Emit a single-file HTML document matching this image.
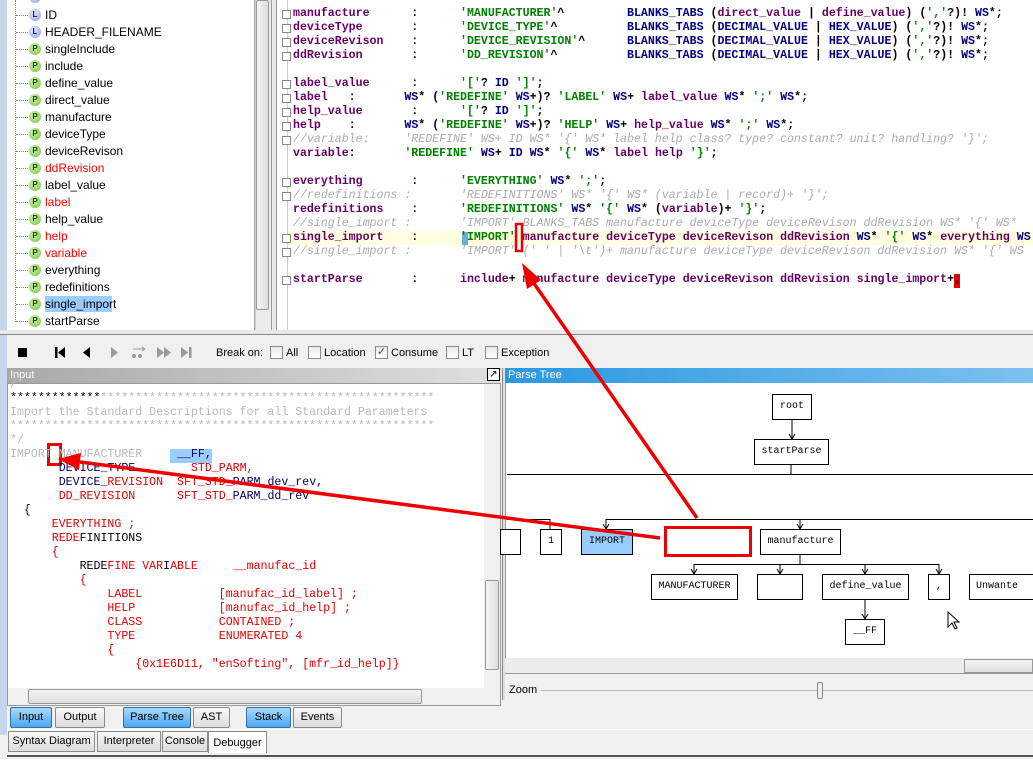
<!DOCTYPE html>
<html><head><meta charset="utf-8">
<style>
*{margin:0;padding:0;box-sizing:border-box}
body{width:1033px;height:763px;position:relative;overflow:hidden;background:#f0f0f0;font-family:"Liberation Sans",sans-serif}
.a{position:absolute}
.ti{position:absolute;left:45px;font-size:12px;line-height:14px;white-space:nowrap;color:#000}
.ic{position:absolute;left:29px;width:12px;height:12px;border-radius:50%;font-size:8px;font-weight:bold;text-align:center;line-height:12px}
.P{background:radial-gradient(circle at 40% 35%,#d8f5b0,#6cc040);color:#114400}
.L{background:radial-gradient(circle at 40% 35%,#e6ecff,#8ea0e0);color:#001a66}
.dt{position:absolute;left:16px;width:12px;border-top:1px dotted #888}
.code{position:absolute;font-family:"Liberation Mono",monospace;font-size:11.6px;line-height:14px;white-space:pre;font-weight:bold}
.n{color:#660066}.s{color:#008000}.t{color:#000080}.c{color:#aaa;font-weight:normal;font-style:italic}.k{color:#000}
.in{position:absolute;font-family:"Liberation Mono",monospace;font-size:11.6px;line-height:14px;white-space:pre}
.r{color:#e00000}.g{color:#b8b8b8}
.fold{position:absolute;left:282px;width:9px;height:9px;border:1px solid #888;background:#fff}
.tb{position:absolute;font-size:11px;line-height:19px;text-align:center;border:1px solid #8a8a8a;border-radius:2px;background:linear-gradient(#f8f8f8,#dcdcdc)}
.tb.b{background:linear-gradient(#a8d8ff,#4aa8f0);border-color:#3a6ea0}
.cb{position:absolute;top:346px;width:13px;height:13px;border:1px solid #8a8a8a;background:linear-gradient(#e8e8e8,#fff)}
.lb{position:absolute;top:346px;font-size:11px;line-height:14px}
.node{position:absolute;border:1px solid #000;background:#fff;font-family:"Liberation Mono",monospace;font-size:10px;text-align:center;line-height:24px;height:26px}
</style></head><body>
<!-- left strip -->
<div class="a" style="left:0;top:0;width:7px;height:735px;background:#c5d5ea"></div>
<!-- tree panel -->
<div class="a" style="left:7px;top:0;width:248px;height:330px;background:#fff;border-right:1px solid #aaa"></div>
<div class="a" style="left:255px;top:0;width:16px;height:330px;background:#ececec;border-left:1px solid #ccc"></div>
<div class="a" style="left:256px;top:0;width:13px;height:310px;background:linear-gradient(90deg,#f4f4f4,#dedede);border:1px solid #999;border-radius:2px"></div>
<div class="a" style="left:15px;top:0;height:322px;border-left:1px dotted #888"></div>
<div class="a" style="left:271px;top:0;width:6px;height:332px;background:#e8e8e8;border-left:1px solid #999;border-right:1px solid #999"></div>
<div class="a" style="left:277px;top:0;width:756px;height:330px;background:#fff"></div>
<div class="a" style="left:287px;top:0;height:330px;border-left:1px solid #ccc"></div>
<div class="a" style="left:0;top:330px;width:1033px;height:5px;background:#e8e8e8;border-bottom:1px solid #888"></div>

<!-- tree items -->
<div class="dt" style="top:-3px"></div><div class="ic L" style="top:-9px">L</div>
<div class="dt" style="top:15px"></div><div class="ic L" style="top:9px">L</div><div class="ti" style="top:8px">ID</div>
<div class="dt" style="top:32px"></div><div class="ic L" style="top:26px">L</div><div class="ti" style="top:25px">HEADER_FILENAME</div>
<div class="dt" style="top:49px"></div><div class="ic P" style="top:43px">P</div><div class="ti" style="top:42px">singleInclude</div>
<div class="dt" style="top:66px"></div><div class="ic P" style="top:60px">P</div><div class="ti" style="top:59px">include</div>
<div class="dt" style="top:83px"></div><div class="ic P" style="top:77px">P</div><div class="ti" style="top:76px">define_value</div>
<div class="dt" style="top:100px"></div><div class="ic P" style="top:94px">P</div><div class="ti" style="top:93px">direct_value</div>
<div class="dt" style="top:117px"></div><div class="ic P" style="top:111px">P</div><div class="ti" style="top:110px">manufacture</div>
<div class="dt" style="top:134px"></div><div class="ic P" style="top:128px">P</div><div class="ti" style="top:127px">deviceType</div>
<div class="dt" style="top:151px"></div><div class="ic P" style="top:145px">P</div><div class="ti" style="top:144px">deviceRevison</div>
<div class="dt" style="top:168px"></div><div class="ic P" style="top:162px">P</div><div class="ti" style="top:161px;color:#f00">ddRevision</div>
<div class="dt" style="top:185px"></div><div class="ic P" style="top:179px">P</div><div class="ti" style="top:178px">label_value</div>
<div class="dt" style="top:202px"></div><div class="ic P" style="top:196px">P</div><div class="ti" style="top:195px;color:#f00">label</div>
<div class="dt" style="top:219px"></div><div class="ic P" style="top:213px">P</div><div class="ti" style="top:212px">help_value</div>
<div class="dt" style="top:236px"></div><div class="ic P" style="top:230px">P</div><div class="ti" style="top:229px;color:#f00">help</div>
<div class="dt" style="top:253px"></div><div class="ic P" style="top:247px">P</div><div class="ti" style="top:246px;color:#f00">variable</div>
<div class="dt" style="top:270px"></div><div class="ic P" style="top:264px">P</div><div class="ti" style="top:263px">everything</div>
<div class="dt" style="top:287px"></div><div class="ic P" style="top:281px">P</div><div class="ti" style="top:280px">redefinitions</div>
<div class="a" style="left:45px;top:296px;width:67px;height:16px;background:#99ccff"></div>
<div class="dt" style="top:304px"></div><div class="ic P" style="top:298px">P</div><div class="ti" style="top:297px">single_import</div>
<div class="dt" style="top:321px"></div><div class="ic P" style="top:315px">P</div><div class="ti" style="top:314px">startParse</div>

<!-- code -->
<div class="a" style="left:288px;top:231px;width:745px;height:14px;background:#ffffe0"></div>
<div class="a" style="left:462px;top:232px;width:6px;height:13px;background:#6aaed0"></div>
<div class="a" style="left:954px;top:274px;width:6px;height:14px;background:#e00"></div>
<div class="fold" style="top:10px"></div><div class="fold" style="top:24px"></div><div class="fold" style="top:38px"></div><div class="fold" style="top:52px"></div>
<div class="fold" style="top:80px"></div><div class="fold" style="top:94px"></div><div class="fold" style="top:108px"></div><div class="fold" style="top:122px"></div><div class="fold" style="top:136px"></div>
<div class="fold" style="top:178px"></div><div class="fold" style="top:192px"></div><div class="fold" style="top:234px"></div><div class="fold" style="top:248px"></div><div class="fold" style="top:276px"></div>
<div class="code" style="left:293px;top:7px"><span class="n">manufacture</span>      <span class="k">:</span>      <span class="s">'MANUFACTURER'</span><span class="k">^</span>         <span class="t">BLANKS_TABS</span> <span class="k">(</span><span class="n">direct_value</span> <span class="k">|</span> <span class="n">define_value</span><span class="k">)</span> <span class="k">(</span><span class="s">','</span><span class="k">?)!</span> <span class="t">WS</span><span class="k">*;</span>
<span class="n">deviceType</span>       <span class="k">:</span>      <span class="s">'DEVICE_TYPE'</span><span class="k">^</span>          <span class="t">BLANKS_TABS</span> <span class="k">(</span><span class="t">DECIMAL_VALUE</span> <span class="k">|</span> <span class="t">HEX_VALUE</span><span class="k">)</span> <span class="k">(</span><span class="s">','</span><span class="k">?)!</span> <span class="t">WS</span><span class="k">*;</span>
<span class="n">deviceRevison</span>    <span class="k">:</span>      <span class="s">'DEVICE_REVISION'</span><span class="k">^</span>      <span class="t">BLANKS_TABS</span> <span class="k">(</span><span class="t">DECIMAL_VALUE</span> <span class="k">|</span> <span class="t">HEX_VALUE</span><span class="k">)</span> <span class="k">(</span><span class="s">','</span><span class="k">?)!</span> <span class="t">WS</span><span class="k">*;</span>
<span class="n">ddRevision</span>       <span class="k">:</span>      <span class="s">'DD_REVISION'</span><span class="k">^</span>          <span class="t">BLANKS_TABS</span> <span class="k">(</span><span class="t">DECIMAL_VALUE</span> <span class="k">|</span> <span class="t">HEX_VALUE</span><span class="k">)</span> <span class="k">(</span><span class="s">','</span><span class="k">?)!</span> <span class="t">WS</span><span class="k">*;</span>

<span class="n">label_value</span>      <span class="k">:</span>      <span class="s">'['</span><span class="k">?</span> <span class="t">ID</span> <span class="s">']'</span><span class="k">;</span>
<span class="n">label</span>   <span class="k">:</span>       <span class="t">WS</span><span class="k">*</span> <span class="k">(</span><span class="s">'REDEFINE'</span> <span class="t">WS</span><span class="k">+)?</span> <span class="s">'LABEL'</span> <span class="t">WS</span><span class="k">+</span> <span class="n">label_value</span> <span class="t">WS</span><span class="k">*</span> <span class="s">';'</span> <span class="t">WS</span><span class="k">*;</span>
<span class="n">help_value</span>       <span class="k">:</span>      <span class="s">'['</span><span class="k">?</span> <span class="t">ID</span> <span class="s">']'</span><span class="k">;</span>
<span class="n">help</span>    <span class="k">:</span>       <span class="t">WS</span><span class="k">*</span> <span class="k">(</span><span class="s">'REDEFINE'</span> <span class="t">WS</span><span class="k">+)?</span> <span class="s">'HELP'</span> <span class="t">WS</span><span class="k">+</span> <span class="n">help_value</span> <span class="t">WS</span><span class="k">*</span> <span class="s">';'</span> <span class="t">WS</span><span class="k">*;</span>
<span class="c">//variable:     'REDEFINE' WS+ ID WS* '{' WS* label help class? type? constant? unit? handling? '}';</span>
<span class="n">variable</span><span class="k">:</span>       <span class="s">'REDEFINE'</span> <span class="t">WS</span><span class="k">+</span> <span class="t">ID</span> <span class="t">WS</span><span class="k">*</span> <span class="s">'{'</span> <span class="t">WS</span><span class="k">*</span> <span class="n">label</span> <span class="n">help</span> <span class="s">'}'</span><span class="k">;</span>

<span class="n">everything</span>       <span class="k">:</span>      <span class="s">'EVERYTHING'</span> <span class="t">WS</span><span class="k">*</span> <span class="s">';'</span><span class="k">;</span>
<span class="c">//redefinitions :       'REDEFINITIONS' WS* '{' WS* (variable | record)+ '}';</span>
<span class="n">redefinitions</span>    <span class="k">:</span>      <span class="s">'REDEFINITIONS'</span> <span class="t">WS</span><span class="k">*</span> <span class="s">'{'</span> <span class="t">WS</span><span class="k">*</span> <span class="k">(</span><span class="n">variable</span><span class="k">)+</span> <span class="s">'}'</span><span class="k">;</span>
<span class="c">//single_import :       'IMPORT' BLANKS_TABS manufacture deviceType deviceRevison ddRevision WS* '{' WS*</span>
<span class="n">single_import</span>    <span class="k">:</span>      <span class="s">'IMPORT'</span> <span class="n">manufacture</span> <span class="n">deviceType</span> <span class="n">deviceRevison</span> <span class="n">ddRevision</span> <span class="t">WS</span><span class="k">*</span> <span class="s">'{'</span> <span class="t">WS</span><span class="k">*</span> <span class="n">everything</span> <span class="t">WS</span>
<span class="c">//single_import :       'IMPORT' (' ' | '\t')+ manufacture deviceType deviceRevison ddRevision WS* '{' WS</span>

<span class="n">startParse</span>       <span class="k">:</span>      <span class="n">include</span><span class="k">+</span> <span class="n">manufacture</span> <span class="n">deviceType</span> <span class="n">deviceRevison</span> <span class="n">ddRevision</span> <span class="n">single_import</span><span class="k">+;</span></div>

<!-- toolbar -->
<div class="a" style="left:7px;top:336px;width:1026px;height:32px;background:#f0f0f0"></div>
<svg class="a" style="left:0;top:340px" width="210" height="26">
<rect x="18" y="8" width="9" height="9" fill="#000"/>
<rect x="55" y="7" width="2.5" height="11" fill="#000"/><path d="M65,7 L58,12.5 L65,18 Z" fill="#000"/>
<path d="M90,7 L83,12.5 L90,18 Z" fill="#000"/>
<path d="M111,7 L118,12.5 L111,18 Z" fill="#999"/>
<circle cx="134" cy="16" r="2" fill="#999"/><circle cx="140" cy="16" r="2" fill="#999"/><path d="M133,9 L145,9 M142,7 L145,9 L142,11" stroke="#999" fill="none"/>
<path d="M157,7 L164,12.5 L157,18 Z M164,7 L171,12.5 L164,18 Z" fill="#999"/>
<path d="M181,7 L188,12.5 L181,18 Z" fill="#999"/><rect x="189" y="7" width="2.5" height="11" fill="#999"/>
</svg>
<div class="lb" style="left:216px">Break on:</div>
<div class="cb" style="left:270px"></div><div class="lb" style="left:286px">All</div>
<div class="cb" style="left:308px"></div><div class="lb" style="left:324px">Location</div>
<div class="cb" style="left:375px;font-size:11px;line-height:11px;color:#2050b0;text-align:center">✓</div><div class="lb" style="left:391px">Consume</div>
<div class="cb" style="left:446px"></div><div class="lb" style="left:462px">LT</div>
<div class="cb" style="left:485px"></div><div class="lb" style="left:501px">Exception</div>

<!-- input panel -->
<div class="a" style="left:7px;top:368px;width:494px;height:15px;background:linear-gradient(90deg,#a8a8a8,#e0e0e0);color:#fff;font-size:11px;line-height:15px;padding-left:3px">Input</div>
<div class="a" style="left:487px;top:368px;width:13px;height:13px;border:1px solid #000;background:#fff;font-size:10px;line-height:11px;text-align:center">↗</div>
<div class="a" style="left:7px;top:383px;width:494px;height:323px;background:#fff;border:1px solid #999"></div>
<div class="a" style="left:484px;top:384px;width:16px;height:304px;background:#f0f0f0"></div>
<div class="a" style="left:485px;top:580px;width:14px;height:90px;border:1px solid #999;border-radius:2px;background:linear-gradient(90deg,#f4f4f4,#ddd)"></div>
<div class="a" style="left:8px;top:688px;width:492px;height:17px;background:#f0f0f0"></div>
<div class="a" style="left:28px;top:689px;width:394px;height:15px;border:1px solid #999;border-radius:2px;background:linear-gradient(#f4f4f4,#ddd)"></div>
<div class="a" style="left:47px;top:443px;width:15px;height:23px;border:3px solid #e00"></div>
<div class="a" style="left:170px;top:449px;width:42px;height:14px;background:#99ccff"></div>
<div class="in" style="left:10px;top:378px"><span class="g">/*</span>
<span style="color:#000">*************</span><span class="g">************************************************</span>
<span class="g">Import the Standard Descriptions for all Standard Parameters</span>
<span class="g">*************************************************************</span>
<span class="g">*/</span>
<span class="g">IMPORT MANUFACTURER</span>     <span style="color:#006">__FF,</span>
       <span style="color:#006">DEVICE_TYPE</span>        <span class="r">STD_PARM,</span>
       <span style="color:#006">DEVICE_</span><span class="r">REVISION</span>  <span class="r">SFT_STD_</span><span style="color:#006">PARM_dev_rev,</span>
       <span class="r">DD_REVISION</span>      <span class="r">SFT_STD_</span><span style="color:#006">PARM_dd_rev</span>
  <span style="color:#006">{</span>
      <span class="r">EVERYTHING ;</span>
      <span class="r">REDE</span><span style="color:#000">FINITIONS</span>
      <span class="r">{</span>
          <span style="color:#000">REDE</span><span class="r">FINE VAR</span><span style="color:#000">I</span><span class="r">ABLE</span>     <span class="r">__manufac_id</span>
          <span class="r">{</span>
              <span class="r">LABEL</span>           <span class="r">[manufac_id_label] ;</span>
              <span class="r">HELP</span>            <span class="r">[manufac_id_help] ;</span>
              <span class="r">CLASS</span>           <span class="r">CONTAINED ;</span>
              <span class="r">TYPE</span>            <span class="r">ENUMERATED 4</span>
              <span class="r">{</span>
                  <span class="r">{0x1E6D11, "enSofting", [mfr_id_help]}</span></div>

<!-- parse tree panel -->
<div class="a" style="left:502px;top:368px;width:3px;height:332px;background:#e0e0e0;border-left:1px solid #888"></div>
<div class="a" style="left:505px;top:368px;width:528px;height:15px;background:linear-gradient(90deg,#2a98e0,#7cc0f0);color:#fff;font-size:11px;line-height:15px;padding-left:3px">Parse Tree</div>
<div class="a" style="left:505px;top:383px;width:528px;height:275px;background:#fff;border-left:1px solid #999"></div>
<div class="a" style="left:505px;top:658px;width:528px;height:16px;background:#ececec;border-bottom:1px solid #999"></div>
<div class="a" style="left:964px;top:659px;width:69px;height:14px;border:1px solid #999;background:linear-gradient(#f4f4f4,#ddd)"></div>
<div class="a" style="left:509px;top:684px;font-size:11px">Zoom</div>
<div class="a" style="left:541px;top:690px;width:492px;border-top:1px solid #bbb"></div>
<div class="a" style="left:817px;top:682px;width:6px;height:17px;border:1px solid #888;border-radius:2px;background:#eee"></div>

<div class="node" style="left:772px;top:394px;width:40px">root</div>
<div class="node" style="left:754px;top:439px;width:75px">startParse</div>
<div class="node" style="left:500px;top:529px;width:21px"></div>
<div class="node" style="left:540px;top:529px;width:22px">1</div>
<div class="node" style="left:581px;top:529px;width:52px;background:#99ccff">IMPORT</div>
<div class="node" style="left:760px;top:529px;width:81px">manufacture</div>
<div class="node" style="left:651px;top:574px;width:87px">MANUFACTURER</div>
<div class="node" style="left:757px;top:574px;width:46px"></div>
<div class="node" style="left:822px;top:574px;width:87px">define_value</div>
<div class="node" style="left:928px;top:574px;width:22px">,</div>
<div class="node" style="left:969px;top:574px;width:70px;text-align:left;padding-left:6px">Unwante</div>
<div class="node" style="left:845px;top:619px;width:40px">__FF</div>
<div class="a" style="left:664px;top:526px;width:88px;height:31px;border:3px solid #e00"></div>

<svg class="a" style="left:0;top:0" width="1033" height="763">
<g stroke="#000" stroke-width="1" fill="none">
<line x1="792" y1="420" x2="792" y2="439"/><path d="M789,434 L792,439 L795,434"/>
<line x1="791" y1="465" x2="791" y2="474"/>
<line x1="507" y1="474.5" x2="1033" y2="474.5"/>
<line x1="507" y1="519.5" x2="550" y2="519.5"/><line x1="550" y1="519" x2="550" y2="529"/>
<line x1="606" y1="519.5" x2="1033" y2="519.5"/>
<line x1="606" y1="519" x2="606" y2="529"/><path d="M603,524 L606,529 L609,524"/>
<line x1="800" y1="519" x2="800" y2="529"/><path d="M797,524 L800,529 L803,524"/>
<line x1="800" y1="555" x2="800" y2="564"/>
<line x1="694" y1="564.5" x2="939" y2="564.5"/>
<line x1="694" y1="564" x2="694" y2="574"/><path d="M691,569 L694,574 L697,569"/>
<line x1="780" y1="564" x2="780" y2="574"/><path d="M777,569 L780,574 L783,569"/>
<line x1="865" y1="564" x2="865" y2="574"/><path d="M862,569 L865,574 L868,569"/>
<line x1="939" y1="564" x2="939" y2="574"/><path d="M936,569 L939,574 L942,569"/>
<line x1="865" y1="600" x2="865" y2="619"/><path d="M862,614 L865,619 L868,614"/>
</g>
<path d="M948,612 L948,627 L952,623 L955,629 L957,628 L954,622 L959,622 Z" fill="#fff" stroke="#000" stroke-width="1"/>
<rect x="516" y="224" width="6" height="27" fill="none" stroke="#e00" stroke-width="2.5"/>
<g stroke="#e00" stroke-width="3.5" fill="#e00">
<line x1="697" y1="518" x2="533" y2="282"/>
<path d="M522,263 L541,280 L527,289 Z" stroke="none"/>
<line x1="660" y1="538" x2="80" y2="462"/>
<path d="M58,459 L81,453 L79,470 Z" stroke="none"/>
</g>
</svg>

<!-- bottom tabs -->
<div class="tb b" style="left:10px;top:707px;width:42px">Input</div>
<div class="tb" style="left:55px;top:707px;width:50px">Output</div>
<div class="tb b" style="left:123px;top:707px;width:68px">Parse Tree</div>
<div class="tb" style="left:193px;top:707px;width:37px">AST</div>
<div class="tb b" style="left:246px;top:707px;width:45px">Stack</div>
<div class="tb" style="left:293px;top:707px;width:49px">Events</div>
<div class="a" style="left:7px;top:729px;width:1026px;height:1px;background:#fff"></div>
<div class="tb" style="left:8px;top:731px;width:87px;border-radius:0">Syntax Diagram</div>
<div class="tb" style="left:97px;top:731px;width:64px;border-radius:0">Interpreter</div>
<div class="tb" style="left:162px;top:731px;width:46px;border-radius:0">Console</div>
<div class="tb" style="left:208px;top:731px;width:59px;height:23px;line-height:22px;background:#fff;border-radius:0;border-bottom:none">Debugger</div>
<div class="a" style="left:7px;top:753px;width:1026px;height:4px;background:#f0f0f0;border-bottom:2px solid #555"></div>
<div class="a" style="left:0;top:759px;width:1033px;height:4px;background:#fff"></div>
</body></html>
